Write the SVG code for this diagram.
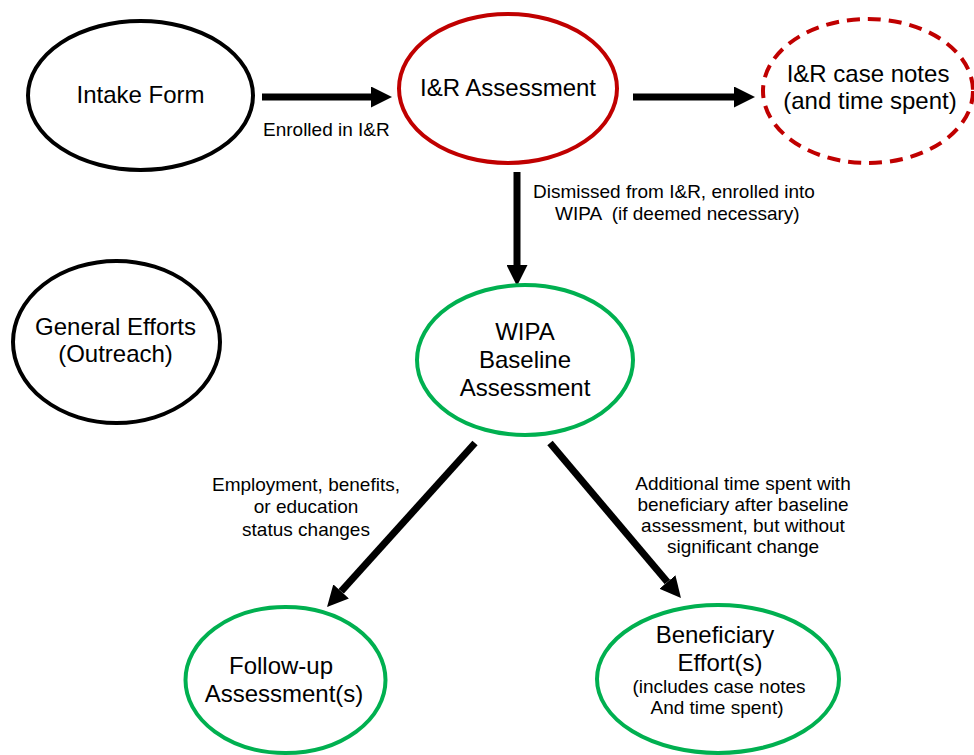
<svg xmlns="http://www.w3.org/2000/svg" width="974" height="755" viewBox="0 0 974 755">
<defs>
<style>
.node{fill:#FFFFFF;stroke-width:4}
.blk{stroke:#000000}
.red{stroke:#C00000}
.grn{stroke:#00B050}
.dash{stroke-dasharray:13 8}
.big{font-family:"Liberation Sans",Arial,sans-serif;font-size:24px;fill:#000000;text-anchor:middle}
.lbl{font-family:"Liberation Sans",Arial,sans-serif;font-size:19px;fill:#000000}
.mid{text-anchor:middle}
.sm{font-family:"Liberation Sans",Arial,sans-serif;font-size:19px;fill:#000000;text-anchor:middle}
.arr{stroke:#000000;stroke-width:7;fill:none;marker-end:url(#head)}
</style>
<marker id="head" viewBox="0 0 3 3" refX="0" refY="1.5" markerWidth="3" markerHeight="3" markerUnits="strokeWidth" orient="auto">
<path d="M0,0 L3,1.5 L0,3 Z" fill="#000000"/>
</marker>
</defs>
<rect width="974" height="755" fill="#FFFFFF"/>

<g id="connectors">
<line class="arr" x1="262" y1="97" x2="371" y2="97"/>
<line class="arr" x1="633" y1="97" x2="734" y2="97"/>
<line class="arr" x1="517" y1="172" x2="517" y2="265"/>
<line class="arr" x1="475" y1="443" x2="341.1" y2="591.4"/>
<line class="arr" x1="550" y1="443" x2="667.4" y2="582"/>
<text class="lbl" x="263" y="136">Enrolled in I&amp;R</text>
<text class="lbl" x="533" y="198">Dismissed from I&amp;R, enrolled into</text>
<text class="lbl" x="555" y="220" xml:space="preserve">WIPA  (if deemed necessary)</text>
<text class="lbl mid" x="306" y="491">Employment, benefits,</text>
<text class="lbl mid" x="306" y="513">or education</text>
<text class="lbl mid" x="306" y="536">status changes</text>
<text class="lbl mid" x="743" y="490">Additional time spent with</text>
<text class="lbl mid" x="743" y="511">beneficiary after baseline</text>
<text class="lbl mid" x="743" y="532">assessment, but without</text>
<text class="lbl mid" x="743" y="553">significant change</text>
</g>

<g id="intake">
<ellipse class="node blk" cx="140.5" cy="95.5" rx="112.5" ry="74.5"/>
<text class="big" x="140.5" y="103">Intake Form</text>
</g>

<g id="ir-assessment">
<ellipse class="node red" cx="508" cy="88.5" rx="109" ry="74.5"/>
<text class="big" x="508" y="96">I&amp;R Assessment</text>
</g>

<g id="ir-case-notes">
<ellipse class="node red dash" cx="868" cy="91" rx="105" ry="72"/>
<text class="big" x="868" y="82">I&amp;R case notes</text>
<text class="big" x="870" y="109">(and time spent)</text>
</g>

<g id="general-efforts">
<ellipse class="node blk" cx="116.5" cy="342" rx="103.5" ry="81"/>
<text class="big" x="115.5" y="335">General Efforts</text>
<text class="big" x="115.5" y="362">(Outreach)</text>
</g>

<g id="wipa-baseline">
<ellipse class="node grn" cx="525" cy="360" rx="108" ry="75"/>
<text class="big" x="525" y="340">WIPA</text>
<text class="big" x="525" y="368">Baseline</text>
<text class="big" x="525" y="396">Assessment</text>
</g>

<g id="follow-up">
<ellipse class="node grn" cx="285.5" cy="680" rx="100" ry="73"/>
<text class="big" x="281" y="674">Follow-up</text>
<text class="big" x="284" y="702">Assessment(s)</text>
</g>

<g id="beneficiary-effort">
<ellipse class="node grn" cx="718" cy="679" rx="121" ry="74"/>
<text class="big" x="715" y="643">Beneficiary</text>
<text class="big" x="720" y="671">Effort(s)</text>
<text class="sm" x="719" y="693">(includes case notes</text>
<text class="sm" x="717" y="714">And time spent)</text>
</g>
</svg>
